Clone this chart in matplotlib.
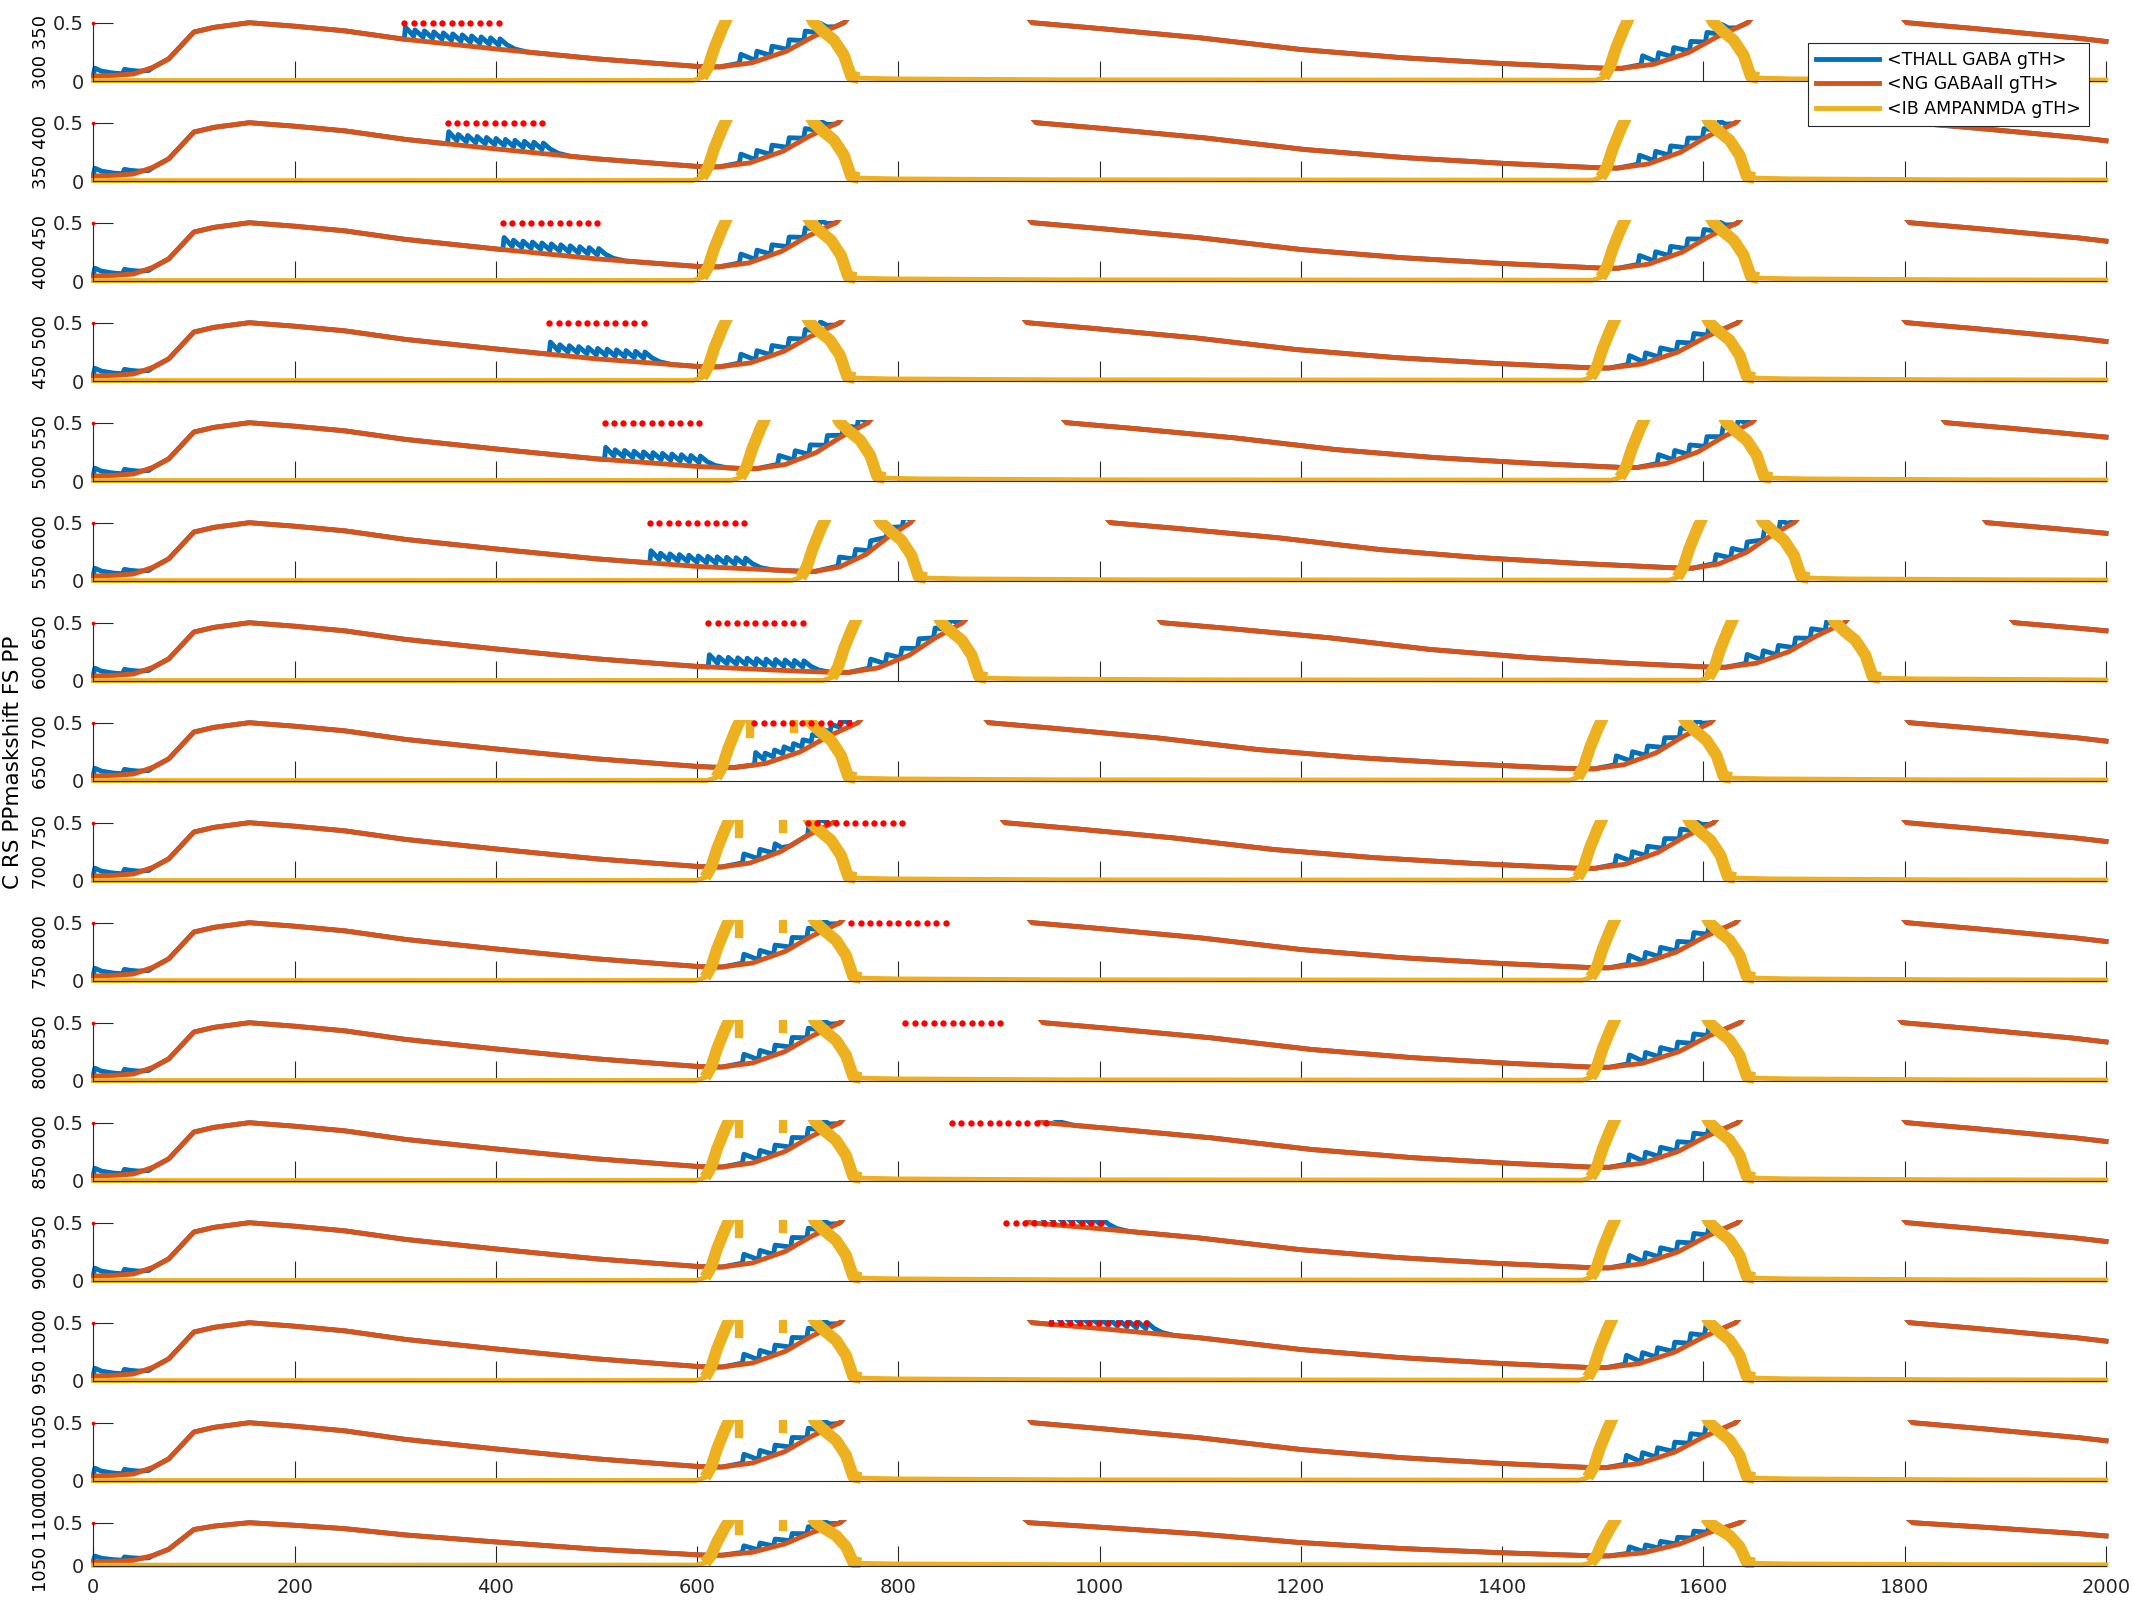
import numpy as np
import matplotlib.pyplot as plt
from matplotlib.lines import Line2D

blue = '#0072BD'
orange = '#D95319'
yellow = '#EDB120'
axcol = '#262626'

# ---- values (ms / conductance) ----
shift_vals = [300, 350, 400, 450, 500, 550, 600, 650, 700, 750, 800, 850, 900, 950, 1000, 1050]
stim_on = [309, 352, 407, 453, 508, 553, 611, 657, 710, 753, 807, 853, 907, 952, None, None]
n_pulses = 11
pulse_gap = 9.4

ib_rise1 = [597, 597, 597, 597, 635, 695, 726, 611, 600, 600, 600, 600, 600, 600, 600, 600]
ib_drop1 = [716, 716, 713, 712, 742, 783, 843, 713, 713, 718, 718, 718, 718, 718, 718, 718]
ng_exit1 = [746, 740, 738, 742, 770, 812, 864, 760, 735, 742, 742, 742, 742, 742, 742, 742]
ng_back1 = [933, 937, 933, 928, 967, 1011, 1062, 890, 906, 933, 944, 944, 931, 933, 933, 930]
ib_rise2 = [1493, 1490, 1490, 1480, 1509, 1566, 1597, 1467, 1467, 1480, 1480, 1480, 1480, 1477, 1477, 1480]
ib_drop2 = [1610, 1606, 1610, 1606, 1623, 1660, 1731, 1583, 1587, 1606, 1606, 1606, 1606, 1606, 1606, 1606]
ng_exit2 = [1644, 1632, 1634, 1634, 1648, 1690, 1740, 1607, 1610, 1632, 1636, 1634, 1634, 1632, 1632, 1636]
ng_back2 = [1802, 1808, 1805, 1802, 1841, 1882, 1909, 1805, 1802, 1802, 1798, 1802, 1802, 1805, 1808, 1808]

# NG trace shape (panel 1)
start_t = [0, 10, 25, 40, 60, 75, 100, 120, 155]
start_y = [0.043, 0.045, 0.05, 0.06, 0.12, 0.19, 0.42, 0.46, 0.5]
decay1_t = [155, 200, 250, 310, 400, 500, 600, 700, 750]
decay1_y = [0.5, 0.47, 0.43, 0.357, 0.275, 0.19, 0.125, 0.085, 0.07]
decay2_dt = [0, 67, 167, 267, 367, 467, 567, 667]
decay2_y = [0.5, 0.45, 0.37, 0.27, 0.2, 0.15, 0.11, 0.085]
rise_u = [0, 0.1, 0.33, 0.58, 0.78, 1.0]
rise_f = [0, 0, 0.09, 0.35, 0.69, 1.0]

# THALL extras
th_start_t = [0, 1.5, 8, 20, 29, 31, 36, 45, 55]
th_start_y = [0.05, 0.11, 0.085, 0.068, 0.062, 0.1, 0.092, 0.085, 0.09]
burst_dt = [33, 49, 64, 81, 97, 112]

# IB trace shape
ib_rise_dt = [0, 8, 14, 20, 28, 34]
ib_rise_y = [0.008, 0.03, 0.12, 0.28, 0.45, 0.56]
ib_drop_dt = [-4, 0, 10, 20, 30, 37, 45, 80, 250]
ib_drop_y = [0.56, 0.5, 0.42, 0.35, 0.22, 0.04, 0.025, 0.018, 0.01]
blob_dt = [42, 85]
blob_lo = [0.40, 0.45]


def ng_trace(k):
    t = list(start_t)
    y = list(start_y)
    omin1 = ib_rise1[k] + 12
    ymin1 = float(np.interp(omin1, decay1_t, decay1_y))
    for tt, yy in zip(decay1_t[1:], decay1_y[1:]):
        if tt < omin1:
            t.append(tt)
            y.append(yy)
    span = ng_exit1[k] - omin1
    for u, f in zip(rise_u, rise_f):
        t.append(omin1 + u * span)
        y.append(ymin1 + f * (0.5 - ymin1))
    t += [ng_exit1[k] + 6, (ng_exit1[k] + ng_back1[k]) / 2, ng_back1[k] - 6]
    y += [0.56, np.nan, 0.56]
    b = ng_back1[k]
    omin2 = ib_rise2[k] + 12
    ymin2 = float(np.interp(omin2 - b, decay2_dt, decay2_y))
    for d, yy in zip(decay2_dt, decay2_y):
        if b + d < omin2:
            t.append(b + d)
            y.append(yy)
    span = ng_exit2[k] - omin2
    for u, f in zip(rise_u, rise_f):
        t.append(omin2 + u * span)
        y.append(ymin2 + f * (0.5 - ymin2))
    t += [ng_exit2[k] + 6, (ng_exit2[k] + ng_back2[k]) / 2, ng_back2[k] - 6]
    y += [0.56, np.nan, 0.56]
    b = ng_back2[k]
    for d, yy in zip(decay2_dt, decay2_y):
        if b + d < 2000:
            t.append(b + d)
            y.append(yy)
    t.append(2000)
    y.append(float(np.interp(2000 - b, decay2_dt, decay2_y)))
    return np.array(t), np.array(y)


def th_trace(k, ng_t, ng_y):
    windows = [(0, 56)]
    et, ey = list(th_start_t), list(th_start_y)
    add_t, add_off = [], []
    stim = []
    if stim_on[k] is not None:
        stim = [stim_on[k] + i * pulse_gap for i in range(n_pulses)]
        for i, s in enumerate(stim):
            add_t += [s - 0.05, s + 1.2]
            add_off += [0.0 if i == 0 else 0.035, 0.105 if i == 0 else 0.09]
        s = stim[-1]
        add_t += [s + 8, s + 16, s + 28]
        add_off += [0.045, 0.015, 0.0]
        windows.append((stim[0] - 0.1, stim[-1] + 28))
    for om, ex in [(ib_rise1[k] + 12, ng_exit1[k]), (ib_rise2[k] + 12, ng_exit2[k])]:
        ps = [om + d for d in burst_dt if om + d < ex]
        if stim:
            ps = [p for p in ps if not (stim[0] - 20 < p < stim[-1] + 28)]
        if not ps:
            continue
        for p in ps:
            add_t += [p - 0.05, p + 1.5]
            add_off += [0.01, 0.085]
        add_t += [ps[-1] + 8, ps[-1] + 16]
        add_off += [0.03, 0.0]
        windows.append((ps[0] - 0.1, ps[-1] + 16))
    pts = [(a, b) for a, b in zip(et, ey)]
    for a, b in zip(ng_t, ng_y):
        if not any(lo <= a <= hi for lo, hi in windows):
            pts.append((a, b))
    base = np.interp(add_t, ng_t, ng_y)
    pts += [(a, b + o) for a, b, o in zip(add_t, base, add_off)]
    pts.sort(key=lambda p: p[0])
    return np.array([p[0] for p in pts]), np.array([p[1] for p in pts]), stim


def ib_trace(k):
    t = [0, 300, ib_rise1[k] - 1]
    y = [0.004, 0.004, 0.005]
    rise_a = list(ib_rise1[k] + np.array(ib_rise_dt))
    t += rise_a
    y += ib_rise_y
    t.append((ib_rise1[k] + 34 + ib_drop1[k] - 4) / 2)
    y.append(np.nan)
    drop_a = list(ib_drop1[k] + np.array(ib_drop_dt))
    t += drop_a
    y += ib_drop_y
    t += [ib_rise2[k] - 1]
    y += [0.007]
    rise_b = list(ib_rise2[k] + np.array(ib_rise_dt))
    t += rise_b
    y += ib_rise_y
    t.append((ib_rise2[k] + 34 + ib_drop2[k] - 4) / 2)
    y.append(np.nan)
    drop_b = list(ib_drop2[k] + np.array(ib_drop_dt))
    t += [v for v in drop_b if v < 2000]
    y += [v for v, tt in zip(ib_drop_y, drop_b) if tt < 2000]
    t.append(2000)
    y.append(0.008)
    # thick (dense) parts of the trace: rises and the first part of each drop
    thick = [(rise_a[1:], ib_rise_y[1:]), (drop_a[:7], ib_drop_y[:7]),
             (rise_b[1:], ib_rise_y[1:]), (drop_b[:7], ib_drop_y[:7])]
    return np.array(t), np.array(y), thick


W, H = 2133, 1600
fig = plt.figure(figsize=(W / 100, H / 100), dpi=100)
x0_px, x1_px = 93.3, 2106.0
pad = 2.6
lw = 3.5

for k in range(16):
    if k < 15:
        top, bot = 22.7 + 100 * k, 81.0 + 100 * k
    else:
        top, bot = 1522.7, 1565.5
    ppy = (bot - top) / 0.5
    ppx = (x1_px - x0_px) / 2000
    ax = fig.add_axes([(x0_px - pad) / W, 1 - (bot + pad) / H,
                       (x1_px - x0_px + 2 * pad) / W, (bot - top + 2 * pad) / H])
    ax.set_xlim(-pad / ppx, 2000 + pad / ppx)
    ax.set_ylim(-pad / ppy, 0.5 + pad / ppy)
    ax.patch.set_visible(False)

    ng_t, ng_y = ng_trace(k)
    th_t, th_y, stim = th_trace(k, ng_t, ng_y)
    ib_t, ib_y, thick = ib_trace(k)

    ax.plot(th_t, th_y, color=blue, lw=lw)
    ax.plot(ng_t, ng_y, color=orange, lw=lw)
    ax.plot(ib_t, ib_y, color=yellow, lw=lw)
    for tt, yy in thick:
        ax.plot(tt, yy, color=yellow, lw=8.5, solid_capstyle='butt')
    if k >= 7:
        for d, lo in zip(blob_dt, blob_lo):
            ax.plot([ib_rise1[k] + d, ib_rise1[k] + d], [lo, 0.52], color=yellow, lw=6)
    if stim:
        ax.plot(stim, [0.5] * len(stim), 'o', color='#FF0000', ms=4.6, mec='none', clip_on=False)
    ax.plot([0], [0.5], 'o', color='#FF0000', ms=2.6, mec='none', clip_on=False)

    for s in ['top', 'right']:
        ax.spines[s].set_visible(False)
    ax.spines['left'].set_position(('data', 0))
    ax.spines['left'].set_bounds(0, 0.5)
    ax.spines['bottom'].set_position(('data', 0))
    ax.spines['bottom'].set_bounds(0, 2000)
    for s in ['left', 'bottom']:
        ax.spines[s].set_color(axcol)
        ax.spines[s].set_linewidth(0.8)
    ax.set_xticks(range(0, 2001, 200))
    ax.set_yticks([0, 0.5])
    ax.set_yticklabels(['0', '0.5'])
    ax.tick_params(direction='in', length=14.4, width=0.8, color=axcol,
                   labelcolor=axcol, labelsize=14)
    ax.tick_params(axis='y', pad=7)
    ax.tick_params(axis='x', pad=9)
    if k < 15:
        ax.set_xticklabels([])

    cy = (top + bot) / 2
    v = shift_vals[k]
    fig.text(41 / W, 1 - cy / H, f"{v} {v + 50}", rotation=90, ha='center',
             va='center', fontsize=13, color='k')

fig.text(13 / W, 1 - 762 / H, 'C RS PPmaskshift FS PP', rotation=90, ha='center',
         va='center', fontsize=15.5, color='k')

leg_h = [Line2D([], [], color=blue, lw=lw), Line2D([], [], color=orange, lw=lw),
         Line2D([], [], color=yellow, lw=lw)]
leg = fig.legend(leg_h, ['<THALL GABA gTH>', '<NG GABAall gTH>', '<IB AMPANMDA gTH>'],
                 loc='upper right', bbox_to_anchor=(2089 / W, 1 - 43 / H), fontsize=12.5,
                 handlelength=3.6, handletextpad=0.5, borderpad=0.45, labelspacing=0.38,
                 fancybox=False, framealpha=1, edgecolor=axcol, borderaxespad=0)
leg.get_frame().set_linewidth(0.8)

fig.savefig('out.png', dpi=100)
